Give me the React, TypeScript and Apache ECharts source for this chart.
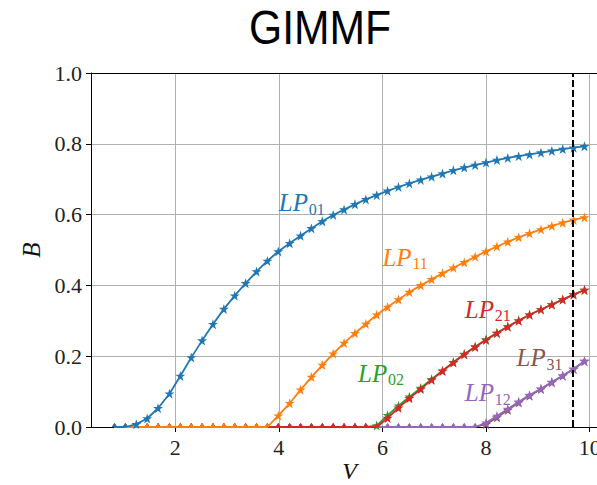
import React, { useEffect, useRef } from 'react';
import * as echarts from 'echarts';

// Normalised frequency V (shared x values)
const V = [
  0.83, 1.04, 1.25, 1.46, 1.67, 1.89, 2.1, 2.31, 2.52, 2.73, 2.94,
  3.15, 3.36, 3.57, 3.78, 3.99, 4.21, 4.42, 4.63, 4.84, 5.05, 5.26,
  5.47, 5.68, 5.89, 6.1, 6.31, 6.52, 6.74, 6.95, 7.16, 7.37, 7.58,
  7.79, 8.0, 8.21, 8.42, 8.63, 8.84, 9.06, 9.27, 9.48, 9.69, 9.9,
];

// Normalised propagation constant B for each mode
const B_LP01 = [
  0, 0, 0.008, 0.024, 0.053, 0.094, 0.144, 0.196, 0.244, 0.29, 0.333,
  0.371, 0.406, 0.439, 0.469, 0.496, 0.519, 0.54, 0.561, 0.581, 0.599, 0.614,
  0.629, 0.643, 0.655, 0.667, 0.678, 0.688, 0.698, 0.707, 0.716, 0.725, 0.733,
  0.74, 0.747, 0.754, 0.76, 0.765, 0.77, 0.775, 0.78, 0.785, 0.789, 0.793,
];
const B_LP11 = [
  0, 0, 0, 0, 0, 0, 0, 0, 0, 0, 0,
  0, 0, 0, 0, 0.032, 0.067, 0.105, 0.141, 0.175, 0.207, 0.237,
  0.265, 0.291, 0.317, 0.339, 0.36, 0.381, 0.4, 0.417, 0.434, 0.45, 0.465,
  0.481, 0.496, 0.51, 0.523, 0.536, 0.547, 0.558, 0.568, 0.577, 0.585, 0.592,
];
const B_LP21 = [
  0, 0, 0, 0, 0, 0, 0, 0, 0, 0, 0,
  0, 0, 0, 0, 0, 0, 0, 0, 0, 0, 0,
  0, 0, 0, 0.025, 0.054, 0.081, 0.107, 0.133, 0.158, 0.182, 0.205,
  0.226, 0.246, 0.265, 0.283, 0.3, 0.317, 0.332, 0.346, 0.36, 0.374, 0.387,
];
const B_LP02 = [
  0, 0, 0, 0, 0, 0, 0, 0, 0, 0, 0,
  0, 0, 0, 0, 0, 0, 0, 0, 0, 0, 0,
  0, 0, 0.004, 0.033, 0.06, 0.085, 0.11, 0.135, 0.159, 0.183, 0.206,
  0.227, 0.247, 0.266, 0.284, 0.301, 0.317, 0.332, 0.346, 0.36, 0.374, 0.387,
];
const B_LP12 = [
  0, 0, 0, 0, 0, 0, 0, 0, 0, 0, 0,
  0, 0, 0, 0, 0, 0, 0, 0, 0, 0, 0,
  0, 0, 0, 0, 0, 0, 0, 0, 0, 0, 0,
  0, 0.012, 0.031, 0.051, 0.071, 0.09, 0.108, 0.127, 0.145, 0.164, 0.186,
];
const B_LP31 = [
  0, 0, 0, 0, 0, 0, 0, 0, 0, 0, 0,
  0, 0, 0, 0, 0, 0, 0, 0, 0, 0, 0,
  0, 0, 0, 0, 0, 0, 0, 0, 0, 0, 0,
  0, 0.008, 0.027, 0.048, 0.069, 0.088, 0.107, 0.126, 0.145, 0.164, 0.186,
];

const X_TICKS = [2, 4, 6, 8, 10];
const X_MIN = 0.376;
const X_MAX = 10.354;
const Y_MIN = 0;
const Y_MAX = 1;
const Y_STEP = 0.2;
const MARKER_V = 9.68;
const TITLE = 'GIMMF';
const X_NAME = 'V';
const Y_NAME = 'B';

// draw order: last drawn is on top
const MODES = [
  { name: 'LP31', sub: '31', color: '#8c564b', data: B_LP31, labelAt: [8.59, 0.175] },
  { name: 'LP12', sub: '12', color: '#9467bd', data: B_LP12, labelAt: [7.59, 0.076] },
  { name: 'LP02', sub: '02', color: '#2ca02c', data: B_LP02, labelAt: [5.53, 0.131] },
  { name: 'LP21', sub: '21', color: '#d62728', data: B_LP21, labelAt: [7.59, 0.312] },
  { name: 'LP11', sub: '11', color: '#ff7f0e', data: B_LP11, labelAt: [6.0, 0.458] },
  { name: 'LP01', sub: '01', color: '#1f77b4', data: B_LP01, labelAt: [4.0, 0.612] },
];

const STAR =
  'path://M50,0 L61.8,35.3 L100,35.3 L69.1,57.1 L80.9,95.1 L50,72.6 L19.1,95.1 L30.9,57.1 L0,35.3 L38.2,35.3 Z';

const SERIF = '"Liberation Serif", "DejaVu Serif", serif';

export default function App() {
  const ref = useRef<HTMLDivElement>(null);

  useEffect(() => {
    if (!ref.current) return;
    const chart = echarts.init(ref.current, null, { renderer: 'svg' });

    const series: any[] = MODES.map((m, idx) => ({
      type: 'line',
      name: m.name,
      xAxisIndex: 0,
      yAxisIndex: 0,
      data: V.map((v, i) => {
        const b = m.data[i];
        if (b === 0) {
          return { value: [v, b], symbol: 'triangle', symbolSize: [5, 4], symbolOffset: [0, -2] };
        }
        return { value: [v, b] };
      }),
      symbol: STAR,
      symbolSize: 10,
      showAllSymbol: true,
      lineStyle: { color: m.color, width: 1.8 },
      itemStyle: { color: m.color, borderWidth: 0 },
      emphasis: { disabled: true },
      silent: true,
      z: 2 + idx,
      markLine:
        idx === MODES.length - 1
          ? {
              silent: true,
              symbol: 'none',
              label: { show: false },
              lineStyle: { color: '#000', type: [7, 3], width: 2 },
              data: [{ xAxis: MARKER_V }],
              z: 20,
            }
          : undefined,
    }));

    const option: any = {
      animation: false,
      backgroundColor: '#fff',
      grid: {
        left: 91,
        top: 73,
        width: 517,
        height: 354,
        containLabel: false,
        outerBoundsMode: 'none',
      },
      xAxis: [
        {
          type: 'value',
          min: X_MIN,
          max: X_MAX,
          axisLine: { show: true, onZero: false, lineStyle: { color: '#000', width: 1 } },
          axisTick: { show: true, length: 5, customValues: X_TICKS, lineStyle: { color: '#000' } },
          axisLabel: {
            customValues: X_TICKS,
            fontFamily: SERIF,
            fontSize: 22,
            color: '#222',
            margin: 9,
          },
          splitLine: { show: true, lineStyle: { color: '#b0b0b0', width: 1 } },
        },
        {
          type: 'value',
          position: 'top',
          min: X_MIN,
          max: X_MAX,
          axisLine: { show: true, onZero: false, lineStyle: { color: '#000', width: 1 } },
          axisTick: { show: false },
          axisLabel: { show: false },
          splitLine: { show: false },
        },
      ],
      yAxis: {
        type: 'value',
        min: Y_MIN,
        max: Y_MAX,
        interval: Y_STEP,
        name: Y_NAME,
        nameLocation: 'middle',
        nameGap: 44,
        nameRotate: 90,
        nameTextStyle: { fontFamily: SERIF, fontStyle: 'italic', fontSize: 25, color: '#111' },
        axisLine: { show: true, onZero: false, lineStyle: { color: '#000', width: 1 } },
        axisTick: { show: true, length: 5, lineStyle: { color: '#000' } },
        axisLabel: {
          fontFamily: SERIF,
          fontSize: 22,
          color: '#222',
          margin: 9,
          formatter: (v: number) => v.toFixed(1),
        },
        splitLine: { show: true, lineStyle: { color: '#b0b0b0', width: 1 } },
      },
      series,
    };

    chart.setOption(option);

    // x-axis name placed under the middle of the plotting area
    const mid = chart.convertToPixel({ gridIndex: 0 } as any, [
      (X_MIN + X_MAX) / 2,
      Y_MIN,
    ]) as number[];

    const graphics: any[] = [
      {
        type: 'text',
        x: 320,
        y: 27,
        scaleX: 0.87,
        silent: true,
        style: {
          text: TITLE,
          fontSize: 49,
          fontFamily: '"Liberation Sans", Arial, sans-serif',
          fill: '#000',
          align: 'center',
          textAlign: 'center',
          verticalAlign: 'middle',
          textVerticalAlign: 'middle',
        },
      },
      {
        type: 'text',
        x: mid[0],
        y: mid[1] + 44,
        silent: true,
        style: {
          text: X_NAME,
          fontSize: 24,
          fontFamily: SERIF,
          fontStyle: 'italic',
          fill: '#111',
          align: 'center',
          textAlign: 'center',
          verticalAlign: 'middle',
          textVerticalAlign: 'middle',
        },
      },
    ];
    MODES.forEach((m) => {
      const p = chart.convertToPixel({ gridIndex: 0 } as any, m.labelAt) as number[];
      if (!p) return;
      const [px, py] = p;
      graphics.push({
        type: 'text',
        x: px,
        y: py - 7.5,
        silent: true,
        z: 50,
        style: {
          text: 'LP',
          fontSize: 25,
          fontFamily: SERIF,
          fontStyle: 'italic',
          fill: m.color,
          align: 'left',
          textAlign: 'left',
          verticalAlign: 'middle',
          textVerticalAlign: 'middle',
        },
      });
      graphics.push({
        type: 'text',
        x: px + 30,
        y: py - 1,
        silent: true,
        z: 50,
        style: {
          text: m.sub,
          fontSize: 16,
          fontFamily: SERIF,
          fill: m.color,
          align: 'left',
          textAlign: 'left',
          verticalAlign: 'middle',
          textVerticalAlign: 'middle',
        },
      });
    });
    chart.setOption({ graphic: graphics });

    return () => {
      chart.dispose();
    };
  }, []);

  return (
    <div
      ref={ref}
      style={{ position: 'fixed', left: 0, top: 0, width: 597, height: 485, background: '#fff' }}
    />
  );
}
